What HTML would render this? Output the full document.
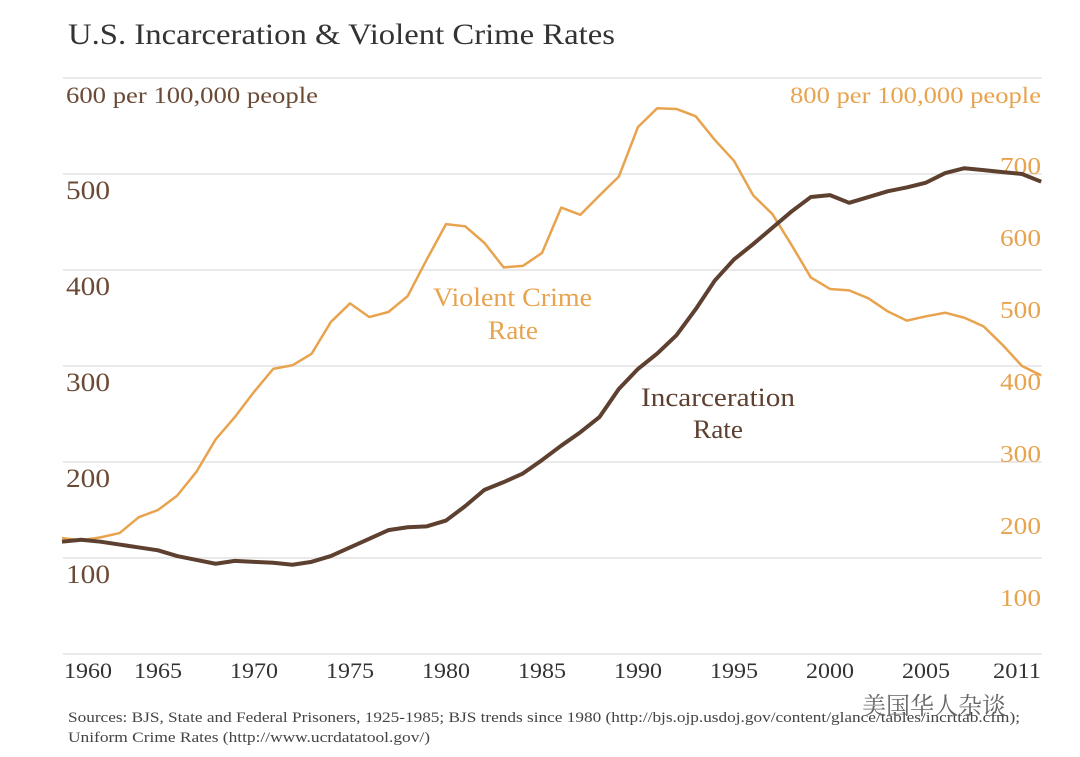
<!DOCTYPE html>
<html><head><meta charset="utf-8"><style>
body{margin:0;background:#fff;}
svg text{font-family:"Liberation Serif","Noto Serif CJK SC",serif;}
</style></head><body>
<svg id="chart" width="1080" height="752" xmlns="http://www.w3.org/2000/svg">
<text x="68" y="44" font-size="30" fill="#333" textLength="547" lengthAdjust="spacingAndGlyphs">U.S. Incarceration &amp; Violent Crime Rates</text>
<g id="grid"></g>
<g id="lt"></g>
<g id="rt"></g>
<g id="xt"></g>
<path id="crime" fill="none" stroke="#e8a34e" stroke-width="2.5" stroke-linejoin="round"/>
<path id="inc" fill="none" stroke="#5e4030" stroke-width="4" stroke-linejoin="round"/>
<text font-size="26" fill="#e8a34e"><tspan x="433" y="306" textLength="159" lengthAdjust="spacingAndGlyphs">Violent Crime</tspan><tspan x="488" y="339" textLength="50" lengthAdjust="spacingAndGlyphs">Rate</tspan></text>
<text font-size="26" fill="#5e4030"><tspan x="641" y="406" textLength="154" lengthAdjust="spacingAndGlyphs">Incarceration</tspan><tspan x="693" y="438" textLength="50" lengthAdjust="spacingAndGlyphs">Rate</tspan></text>
<text font-size="15" fill="#444"><tspan x="68" y="722" textLength="952" lengthAdjust="spacingAndGlyphs">Sources: BJS, State and Federal Prisoners, 1925-1985; BJS trends since 1980 (http://bjs.ojp.usdoj.gov/content/glance/tables/incrttab.cfm);</tspan><tspan x="68" y="742" textLength="362" lengthAdjust="spacingAndGlyphs">Uniform Crime Rates (http://www.ucrdatatool.gov/)</tspan></text>
<text x="862" y="714" font-size="24" fill="#666" font-family="Noto Sans CJK SC, sans-serif">美国华人杂谈</text>
</svg>
<script>
const years=[];for(let y=1960;y<=2011;y++)years.push(y);
const incarceration=[117,119,117,114,111,108,102,98,94,97,96,95,93,96,102,111,120,129,132,133,139,154,171,179,188,202,217,231,247,276,297,313,332,359,389,411,427,444,461,476,478,470,476,482,486,491,501,506,504,502,500,492];
const violentCrime=[161,158,162,168,190,200,220,253,298,329,364,396,401,417,461,487,468,475,497,548,597,594,571,537,539,557,620,610,637,663,732,758,757,747,714,685,637,611,568,523,507,505,494,476,463,469,474,467,455,429,400,387];
const leftTicks=[100,200,300,400,500];
const rightTicks=[100,200,300,400,500,600,700];
const xTicks=[1960,1965,1970,1975,1980,1985,1990,1995,2000,2005,2011];
const X=y=>62+(y-1960)*19.2;
const YL=v=>654-v*0.96;
const YR=v=>654-v*0.72;
const NS="http://www.w3.org/2000/svg";
function mk(tag,attrs,parent,txt){const e=document.createElementNS(NS,tag);for(const k in attrs)e.setAttribute(k,attrs[k]);if(txt!==undefined)e.textContent=txt;document.getElementById(parent).appendChild(e);return e;}
[0,100,200,300,400,500,600].forEach(v=>{
 const l=mk('line',{x1:63,x2:1042,y1:YL(v),y2:YL(v),stroke:'#e2e2e2','stroke-width':1.5},'grid');
 
 
});
leftTicks.forEach(v=>{
 const t=mk('text',{x:66,y:YL(v)+25,'font-size':26,fill:'#6b4a36',textLength:44,lengthAdjust:'spacingAndGlyphs'},'lt',String(v));
 
 
});
let t0=mk('text',{x:66,y:103,'font-size':23,fill:'#6b4a36',textLength:252,lengthAdjust:'spacingAndGlyphs'},'lt','600 per 100,000 people');


rightTicks.forEach(v=>{
 const t=mk('text',{x:1000,y:YR(v)+24,'font-size':24,fill:'#e8a34e',textLength:41,lengthAdjust:'spacingAndGlyphs'},'rt',String(v));
 
 
});
let t1=mk('text',{x:790,y:103,'font-size':23,fill:'#e8a34e',textLength:251,lengthAdjust:'spacingAndGlyphs'},'rt','800 per 100,000 people');


xTicks.forEach(y=>{
 let x=X(y);if(y===1960)x=88;if(y===2011)x=1017;
 const t=mk('text',{x:x-24,y:678,'font-size':22,fill:'#333',textLength:48,lengthAdjust:'spacingAndGlyphs'},'xt',String(y));
 
 
});
document.getElementById('inc').setAttribute('d',incarceration.map((v,i)=>(i?'L':'M')+X(years[i])+','+YL(v)).join(''));
document.getElementById('crime').setAttribute('d',violentCrime.map((v,i)=>(i?'L':'M')+X(years[i])+','+YR(v)).join(''));
</script>
</body></html>
